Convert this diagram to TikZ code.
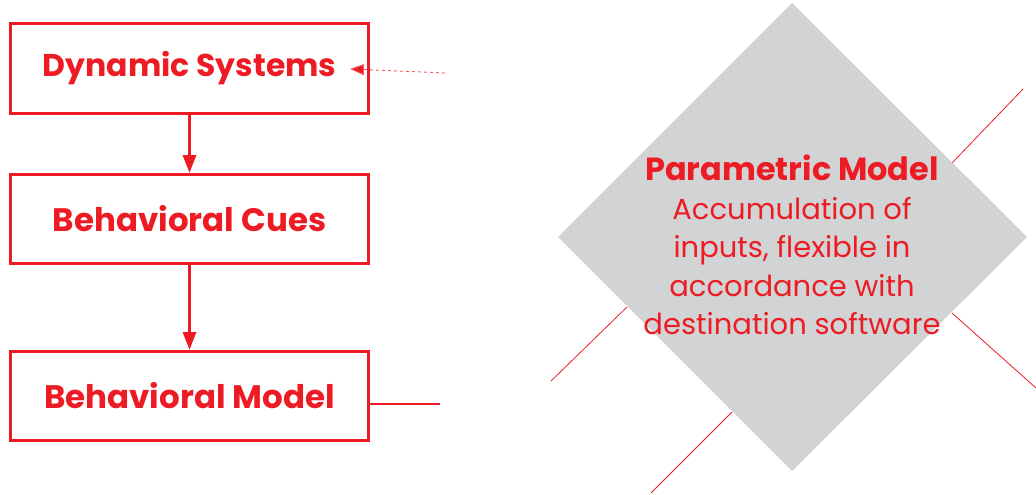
\documentclass[tikz,border=0pt]{standalone}
\usepackage{fontspec}
\setmainfont{Poppins}
\usetikzlibrary{arrows.meta}
\definecolor{pred}{HTML}{ED1C24}
\definecolor{pgray}{HTML}{D1D3D4}
\tikzset{
  stagebox/.style={draw=pred, line width=3pt, minimum width=358pt, minimum height=89pt, inner sep=0pt,
    text=pred, font=\bfseries\fontsize{32.5}{40}\selectfont},
  flowarrow/.style={draw=pred, line width=3pt, -{Triangle[length=18pt,width=13pt]}},
  thinred/.style={draw=pred, line width=0.8pt},
  dotarrow/.style={draw=pred!70, line width=0.9pt, dash pattern=on 3pt off 3pt, -{Triangle[length=14pt,width=11pt,fill=pred]}}
}
\begin{document}
\begin{tikzpicture}[x=1pt,y=-1pt]
\useasboundingbox (0,0) rectangle (1036,495);
% boxes
\node[stagebox] (ds) at (189.5,68.5) {\fontsize{31.5}{40}\selectfont Dynamic Systems};
\node[stagebox] (bc) at (189.5,219) {Behavioral Cues};
\node[stagebox] (bm) at (189.5,396) {Behavioral Model};
\draw[flowarrow] (ds.south) -- (bc.north);
\draw[flowarrow] (bc.south) -- (bm.north);
\coordinate (dsin) at (350,69);
\coordinate (dsfrom) at (445,73);
\draw[dotarrow] (dsfrom) -- (dsin);
\coordinate (bmout) at (440,404);
\draw[draw=pred, line width=1.6pt] ([yshift=-8pt]bm.east) -- (bmout);
% background lines
\coordinate (l1a) at (1023,89);  \coordinate (l1b) at (952,163);
\coordinate (l2a) at (627,307);  \coordinate (l2b) at (551,381);
\coordinate (l3a) at (952,313);  \coordinate (l3b) at (1036,388);
\coordinate (l4a) at (732,412);  \coordinate (l4b) at (651,493);
\draw[thinred] (l1a) -- (l1b);
\draw[thinred] (l2a) -- (l2b);
\draw[thinred] (l3a) -- (l3b);
\draw[thinred] (l4a) -- (l4b);
% diamond
\coordinate (dt) at (792,3);
\coordinate (dr) at (1027,237);
\coordinate (db) at (792,471);
\coordinate (dl) at (558,237);
\fill[pgray] (dt) -- (dr) -- (db) -- (dl) -- cycle;
\node[text=pred, align=center, font=\fontsize{29}{38.5}\selectfont, inner sep=0pt] (pm) at (792,245)
  {{\bfseries\fontsize{32}{38.5}\selectfont Parametric Model}\\Accumulation of\\inputs, flexible in\\accordance with\\destination software};
\end{tikzpicture}
\end{document}
